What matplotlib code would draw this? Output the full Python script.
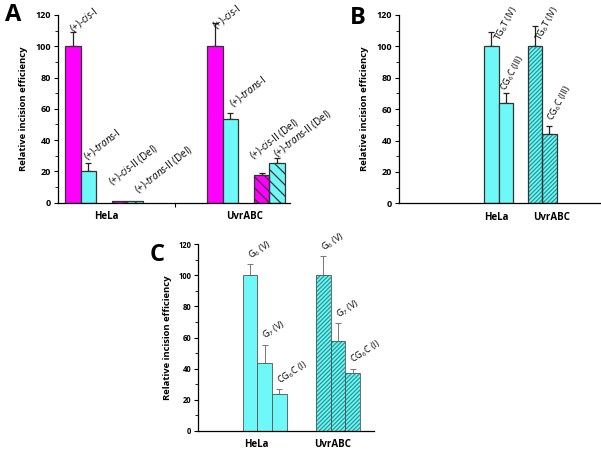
import numpy as np
import matplotlib
matplotlib.use('Agg')
import matplotlib.pyplot as plt

plt.rcParams['font.family'] = ['Open Sans', 'DejaVu Sans']
plt.rcParams['mathtext.fontset'] = 'custom'
plt.rcParams['mathtext.rm'] = 'Open Sans'
plt.rcParams['mathtext.it'] = 'Open Sans:italic'
plt.rcParams['hatch.linewidth'] = 0.9

cells = ['HeLa', 'UvrABC']

# panel A
a_names = [r'(+)-$\mathit{cis}$-I', r'(+)-$\mathit{trans}$-I',
           r'(+)-$\mathit{cis}$-II (Del)', r'(+)-$\mathit{trans}$-II (Del)']
a_hela = [100, 20, 1, 1]
a_hela_err = [9, 5, 0, 0]
a_uvr = [100, 53.5, 17.5, 25.5]
a_uvr_err = [15, 4, 1.5, 3]

# panel B
b_names = [r'TG$_6$T (IV)', r'CG$_6$C (III)']
b_hela = [100, 64]
b_hela_err = [9, 6]
b_uvr = [100, 44]
b_uvr_err = [13, 5]

# panel C
c_names = [r'G$_6$ (V)', r'G$_7$ (V)', r'CG$_6$C (I)']
c_hela = [100, 43.5, 24]
c_hela_err = [7, 12, 3]
c_uvr = [100, 57.5, 37.5]
c_uvr_err = [12, 11.5, 2.5]

magenta = '#ff00ff'
cyan = '#6ff8f8'
teal = '#2a9696'


def style_axes(ax, xlim, lab_shift):
    ax.set_ylim(0, 120)
    ax.set_xlim(*xlim)
    ax.set_yticks(np.arange(0, 121, 20))
    ax.set_yticks(np.arange(10, 120, 20), minor=True)
    ax.spines['top'].set_visible(False)
    ax.spines['right'].set_visible(False)
    ax.spines['left'].set_linewidth(0.9)
    ax.spines['bottom'].set_linewidth(0.9)
    ax.tick_params(axis='y', which='major', length=3, width=0.8, labelsize=6.5, pad=2)
    ax.tick_params(axis='y', which='minor', length=2, width=0.6)
    ax.set_xticks([0 + lab_shift[0], 1 + lab_shift[1]])
    ax.set_xticklabels(cells, fontsize=7, fontweight='bold')
    ax.tick_params(axis='x', length=0, pad=6)
    for t in ax.get_yticklabels():
        t.set_fontweight('bold')
    ax.set_ylabel('Relative incision efficiency', fontsize=6.8, fontweight='bold', labelpad=5)


def hbar(ax, x, h, w, fc, hatch, hc, ec, lw):
    # hatch colour follows edgecolor, so draw fill+hatch, then the outline
    ax.bar(x, h, w, color=fc, edgecolor=hc, linewidth=0, hatch=hatch, zorder=2)
    ax.bar(x, h, w, fill=False, edgecolor=ec, linewidth=lw, zorder=3)


fig = plt.figure(figsize=(6.01, 4.51), dpi=100)

# ---------- A ----------
axA = fig.add_axes([58 / 601, 1 - 202.5 / 451, (290 - 58) / 601, 187.5 / 451])
wA = 0.11
offA = np.array([-2, -1, 1, 2]) * wA
colA = [magenta, cyan, magenta, cyan]
# label nudges (pixels across, units up) per group
nudge_x = [[2, 1, -6, 5], [3, 5, -7, 2]]
nudge_y = [[-2, 0, 8, 3], [-6, 1.5, 7, -1.5]]
for g, (vals, errs) in enumerate([(a_hela, a_hela_err), (a_uvr, a_uvr_err)]):
    for i in range(4):
        if i >= 2:
            hbar(axA, g + offA[i], vals[i], wA, colA[i], '\\\\\\', '#333333', '#333333', 0.9)
        else:
            axA.bar(g + offA[i], vals[i], wA, color=colA[i], edgecolor='#333333',
                    linewidth=0.9, zorder=2)
        if errs[i] > 0:
            axA.errorbar(g + offA[i], vals[i], yerr=[[0], [errs[i]]], fmt='none',
                         ecolor='#222222', elinewidth=0.9, capsize=2.5, capthick=0.9, zorder=1)
        axA.text(g + offA[i] + nudge_x[g][i] / 142, vals[i] + errs[i] + nudge_y[g][i],
                 a_names[i], rotation=38, rotation_mode='anchor', ha='left', va='bottom',
                 fontsize=7)
style_axes(axA, (-0.324, 1.31), (0.02, -0.01))
axA.set_xticks([0.5], minor=True)
axA.tick_params(axis='x', which='minor', length=3, width=0.8, direction='out')

# ---------- B ----------
axB = fig.add_axes([399 / 601, 1 - 203.3 / 451, (601 - 399) / 601, 188.3 / 451])
wB = 1 / 3
offB = np.array([-0.5, 0.5]) * wB
nudgeB_x = [[12, 3.5], [9, 7]]
nudgeB_y = [[-7, 0], [-11, 2]]
for g, (vals, errs) in enumerate([(b_hela, b_hela_err), (b_uvr, b_uvr_err)]):
    for i in range(2):
        if g == 1:
            hbar(axB, g + offB[i], vals[i], wB, cyan, '////////', teal, '#333333', 0.9)
        else:
            axB.bar(g + offB[i], vals[i], wB, color=cyan, edgecolor='#333333',
                    linewidth=0.9, zorder=2)
        axB.errorbar(g + offB[i], vals[i], yerr=[[0], [errs[i]]], fmt='none',
                     ecolor='#222222', elinewidth=0.9, capsize=2.5, capthick=0.9, zorder=1)
        axB.text(g + offB[i] + nudgeB_x[g][i] / 43.6, vals[i] + errs[i] + nudgeB_y[g][i],
                 b_names[i], rotation=62, rotation_mode='anchor', ha='left', va='bottom',
                 fontsize=6.5)
style_axes(axB, (-2.287, 2.35), (-0.05, 0.21))

# ---------- C ----------
axC = fig.add_axes([198.3 / 601, 1 - 431 / 451, (374 - 198.3) / 601, 187 / 451])
wC = 0.2
offC = np.array([-1, 0, 1]) * wC
for g, (vals, errs) in enumerate([(c_hela, c_hela_err), (c_uvr, c_uvr_err)]):
    for i in range(3):
        if g == 1:
            hbar(axC, g + offC[i], vals[i], wC, cyan, '////////', teal, '#555555', 0.6)
        else:
            axC.bar(g + offC[i], vals[i], wC, color=cyan, edgecolor='#555555',
                    linewidth=0.6, zorder=2)
        axC.errorbar(g + offC[i], vals[i], yerr=[[0], [errs[i]]], fmt='none',
                     ecolor='#777777', elinewidth=0.7, capsize=2, capthick=0.7, zorder=1)
        axC.text(g + offC[i] + 0.035, vals[i] + errs[i] + 1.5, c_names[i], rotation=33,
                 rotation_mode='anchor', ha='left', va='bottom', fontsize=6.5)
style_axes(axC, (-0.906, 1.49), (-0.11, -0.07))
axC.tick_params(axis='y', labelsize=5.5)

fig.text(5 / 601, 1 - 21 / 451, 'A', fontsize=17, fontweight='bold')
fig.text(350 / 601, 1 - 24 / 451, 'B', fontsize=17, fontweight='bold')
fig.text(150 / 601, 1 - 261 / 451, 'C', fontsize=17, fontweight='bold')

fig.savefig('out.png', dpi=100)
